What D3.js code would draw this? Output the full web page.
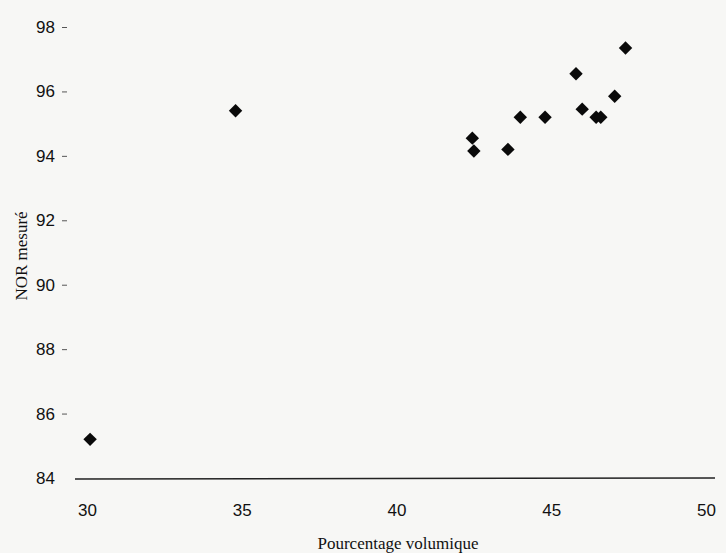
<!DOCTYPE html>
<html>
<head>
<meta charset="utf-8">
<script src="https://cdn.jsdelivr.net/npm/d3@7"></script>
<style>
  body { margin: 0; background: #f7f7f5; }
  svg { display: block; }
</style>
</head>
<body>
<div class="graph"></div>
<script>
// values
const volPct = [30.1, 34.8, 42.45, 42.5, 43.6, 44.0, 44.8, 45.8, 46.0, 46.45, 46.6, 47.05, 47.4];
const norMes = [85.2, 95.4, 94.55, 94.15, 94.2, 95.2, 95.2, 96.55, 95.45, 95.2, 95.2, 95.85, 97.35];
const xTicks = [30, 35, 40, 45, 50];
const yTicks = [84, 86, 88, 90, 92, 94, 96, 98];

const svgDim = { w: 726, h: 553 };
const svg = d3.select('.graph').append('svg')
    .attr('width', svgDim.w).attr('height', svgDim.h);

const xScale = d3.scaleLinear().domain([30, 50]).range([87, 706]);
const yScale = d3.scaleLinear().domain([84, 98]).range([478, 27]);

// x axis: a plain line across the bottom, labels underneath
svg.append('line')
    .attr('x1', 75).attr('x2', 715)
    .attr('y1', yScale(84) + 1).attr('y2', yScale(84))
    .attr('stroke', '#222').attr('stroke-width', 1.4);

const xAxis = d3.axisBottom(xScale).tickValues(xTicks).tickSize(0).tickPadding(24);
svg.append('g')
    .attr('transform', `translate(0,${yScale(84) + 2})`)
    .call(xAxis)
    .call(g => g.select('.domain').remove())
    .selectAll('text')
    .attr('font-family', 'Liberation Sans, Arial, sans-serif')
    .attr('font-size', 17).attr('fill', '#111');

// y axis: only the short dash ticks and labels
const yAxis = d3.axisLeft(yScale).tickValues(yTicks).tickSize(5).tickPadding(7);
svg.append('g')
    .attr('transform', 'translate(67,0)')
    .call(yAxis)
    .call(g => g.select('.domain').remove())
    .call(g => g.selectAll('.tick line').attr('stroke', '#555'))
    .call(g => g.selectAll('.tick').filter(d => d === 84).select('line').remove())
    .selectAll('text')
    .attr('font-family', 'Liberation Sans, Arial, sans-serif')
    .attr('font-size', 17).attr('fill', '#111');

// axis titles
svg.append('text')
    .attr('x', 398).attr('y', 549)
    .attr('text-anchor', 'middle')
    .attr('font-family', 'Liberation Serif, Times New Roman, serif')
    .attr('font-size', 17).attr('fill', '#111')
    .text('Pourcentage volumique');

svg.append('text')
    .attr('transform', 'translate(27,256) rotate(-90)')
    .attr('text-anchor', 'middle')
    .attr('font-family', 'Liberation Serif, Times New Roman, serif')
    .attr('font-size', 17).attr('fill', '#111')
    .text('NOR mesuré');

// points, diamonds
const pts = volPct.map((v, i) => [v, norMes[i]]);
const diamond = d3.symbol().type(d3.symbolSquare).size(90);
svg.selectAll('path.pt')
    .data(pts)
    .enter()
    .append('path')
    .attr('class', 'pt')
    .attr('d', diamond)
    .attr('transform', d => `translate(${xScale(d[0])},${yScale(d[1])}) rotate(45)`)
    .attr('fill', '#0a0a0a');
</script>
</body>
</html>
